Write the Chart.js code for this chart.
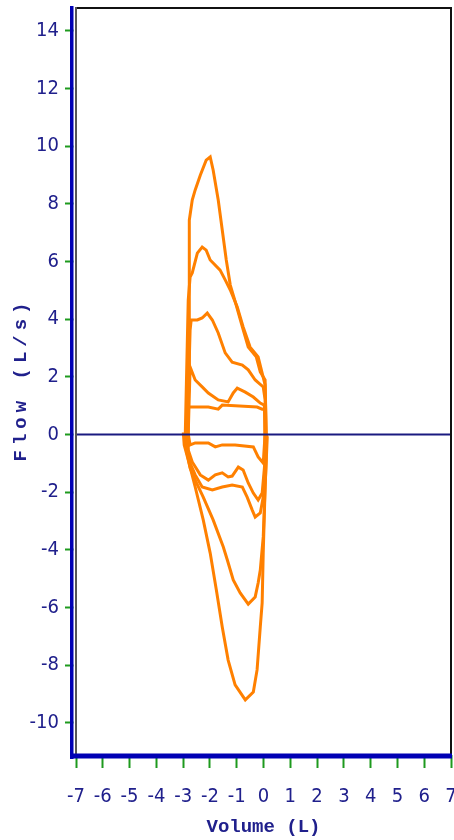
<!DOCTYPE html>
<html>
<head>
<meta charset="utf-8">
<script src="https://cdn.jsdelivr.net/npm/chart.js@4.4.0/dist/chart.umd.min.js"></script>
<style>
  html, body { margin: 0; padding: 0; background: #ffffff; overflow: hidden; }
  canvas { display: block; }
</style>
</head>
<body>
<canvas id="loops" width="454" height="840"></canvas>
<script>
// Axis tick values
const volumeTicks = [-7, -6, -5, -4, -3, -2, -1, 0, 1, 2, 3, 4, 5, 6, 7];
const flowTicks = [-10, -8, -6, -4, -2, 0, 2, 4, 6, 8, 10, 12, 14];

// Flow-volume loops (volume in L, flow in L/s), each traced as a closed path
const loop1Volume = [-2.88, -2.77, -2.77, -2.77, -2.66, -2.55, -2.36, -2.14, -1.99, -1.88, -1.69, -1.54, -1.39, -1.24, -1.02, -0.79, -0.57, -0.27, -0.12, 0.06, 0.10,
  0.14, 0.06, -0.01, -0.05, -0.12, -0.24, -0.38, -0.68, -1.06, -1.32, -1.54, -1.76, -1.99, -2.25, -2.55, -2.81, -2.96, -2.99, -2.88];
const loop1Flow = [0.02, 1.89, 5.01, 7.43, 8.13, 8.48, 8.99, 9.51, 9.62, 9.17, 8.13, 7.09, 6.05, 5.18, 4.49, 3.73, 3.03, 2.69, 2.17, 1.89, 0.02,
  -0.09, -1.82, -4.10, -5.84, -6.67, -8.16, -8.93, -9.20, -8.68, -7.82, -6.67, -5.39, -4.11, -2.96, -1.82, -0.88, -0.36, 0.02, 0.02];

const loop2Volume = [-2.92, -2.81, -2.74, -2.66, -2.47, -2.29, -2.14, -1.99, -1.62, -1.43, -1.24, -0.98, -0.76, -0.50, -0.20, -0.05, 0.06, 0.10,
  0.10, 0.06, -0.01, -0.12, -0.20, -0.31, -0.57, -0.87, -1.13, -1.35, -1.50, -1.88, -2.25, -2.55, -2.74, -2.88, -2.92];
const loop2Flow = [0.02, 4.66, 5.46, 5.60, 6.29, 6.50, 6.39, 6.05, 5.70, 5.36, 5.01, 4.42, 3.73, 3.03, 2.69, 2.13, 1.72, 0.02,
  -0.88, -1.82, -3.55, -4.70, -5.15, -5.63, -5.88, -5.49, -5.04, -4.35, -3.90, -2.96, -2.17, -1.58, -1.16, -0.54, 0.02];

const loop3Volume = [-2.85, -2.74, -2.70, -2.47, -2.29, -2.10, -1.91, -1.69, -1.43, -1.17, -0.79, -0.57, -0.31, -0.01, 0.06, 0.06,
  0.06, -0.01, -0.12, -0.31, -0.42, -0.61, -0.79, -1.17, -1.54, -1.91, -2.29, -2.55, -2.74, -2.85, -2.85];
const loop3Flow = [0.02, 3.62, 3.97, 3.97, 4.04, 4.21, 3.97, 3.52, 2.83, 2.51, 2.41, 2.24, 1.89, 1.65, 1.20, 0.02,
  -0.99, -2.17, -2.72, -2.86, -2.62, -2.17, -1.82, -1.75, -1.82, -1.92, -1.82, -1.40, -0.99, -0.36, 0.02];

const loop4Volume = [-2.81, -2.74, -2.55, -2.29, -2.06, -1.69, -1.32, -1.13, -0.98, -0.68, -0.38, -0.12, 0.03, 0.06,
  0.06, -0.05, -0.20, -0.38, -0.57, -0.76, -0.94, -1.17, -1.32, -1.54, -1.80, -2.06, -2.36, -2.66, -2.81, -2.81];
const loop4Flow = [0.02, 2.34, 1.89, 1.65, 1.44, 1.20, 1.13, 1.44, 1.61, 1.47, 1.30, 1.09, 1.02, 0.02,
  -0.88, -2.03, -2.27, -2.03, -1.68, -1.23, -1.13, -1.44, -1.47, -1.33, -1.40, -1.58, -1.40, -0.95, -0.54, 0.02];

const loop5Volume = [-2.81, -2.81, -2.06, -1.69, -1.54, -0.24, -0.05, 0.06, 0.06,
  -0.01, -0.20, -0.38, -1.06, -1.54, -1.80, -2.06, -2.55, -2.74, -2.81];
const loop5Flow = [0.02, 0.95, 0.95, 0.88, 1.02, 0.95, 0.88, 0.88, 0.02,
  -0.99, -0.78, -0.43, -0.36, -0.36, -0.43, -0.29, -0.29, -0.36, 0.02];

const loops = [
  [loop1Volume, loop1Flow],
  [loop2Volume, loop2Flow],
  [loop3Volume, loop3Flow],
  [loop4Volume, loop4Flow],
  [loop5Volume, loop5Flow]
];

const ORANGE = '#ff8000';
const NAVY = '#20208c';
const AXIS_BLUE = '#0000b4';
const TICK_GREEN = '#1e9a1e';
const labelFont = { family: "'DejaVu Sans Condensed', 'Liberation Sans', sans-serif", size: 20 };

const datasets = loops.map(([vol, flow]) => ({
  data: vol.map((v, i) => ({ x: v, y: flow[i] })),
  showLine: true,
  borderColor: ORANGE,
  borderWidth: 3,
  pointRadius: 0,
  pointHoverRadius: 0,
  tension: 0,
  fill: false
}));

// Frame, blue axis bars, zero line and the rotated y title
const framePlugin = {
  id: 'frame',
  afterDatasetsDraw(chart) {
    const { ctx, chartArea: a, scales } = chart;
    const y0 = scales.y.getPixelForValue(0);
    ctx.save();
    ctx.strokeStyle = '#1a1a80';
    ctx.lineWidth = 2;
    ctx.beginPath();
    ctx.moveTo(a.left, y0);
    ctx.lineTo(a.right, y0);
    ctx.stroke();
    ctx.restore();
  },
  afterDraw(chart) {
    const { ctx, chartArea: a } = chart;
    ctx.save();
    // plot frame
    ctx.fillStyle = '#111111';
    ctx.fillRect(a.left, a.top, a.right - a.left, 2);
    ctx.fillRect(a.right - 1, a.top, 2, a.bottom - a.top);
    ctx.fillStyle = '#ffffff';
    ctx.fillRect(a.left - 2.5, a.top - 1, 1.5, a.bottom - a.top);
    ctx.fillStyle = '#555555';
    ctx.fillRect(a.left - 1, a.top, 2, a.bottom - a.top);
    // blue axis bars
    ctx.fillStyle = AXIS_BLUE;
    ctx.fillRect(a.left - 6, a.top - 1, 3.5, a.bottom - a.top + 5);
    ctx.fillRect(a.left - 6, a.bottom - 1.5, a.right - a.left + 7, 5);
    // y axis title
    ctx.translate(21.5, 382);
    ctx.rotate(-Math.PI / 2);
    ctx.font = "bold 19px 'Liberation Mono', 'DejaVu Sans Mono', monospace";
    ctx.letterSpacing = '5px';
    ctx.textAlign = 'center';
    ctx.textBaseline = 'middle';
    ctx.fillStyle = NAVY;
    ctx.fillText('Flow (L/s)', 2.5, 0);
    ctx.restore();
  }
};

new Chart(document.getElementById('loops'), {
  type: 'scatter',
  data: { datasets },
  options: {
    responsive: false,
    animation: false,
    events: [],
    layout: { padding: { top: 7, right: 3, left: 0, bottom: 0 } },
    plugins: { legend: { display: false }, tooltip: { enabled: false } },
    scales: {
      x: {
        type: 'linear',
        min: -7,
        max: 7,
        afterFit(scale) {
          scale.height = 85;
          scale.paddingLeft = 0;
          scale.paddingRight = 0;
        },
        afterBuildTicks(scale) { scale.ticks = volumeTicks.map(v => ({ value: v })); },
        border: { display: false },
        grid: { drawOnChartArea: false, drawTicks: true, tickLength: 13, tickColor: TICK_GREEN, tickWidth: 2, color: TICK_GREEN },
        ticks: { autoSkip: false, maxRotation: 0, minRotation: 0, padding: 17, color: NAVY, font: labelFont },
        title: {
          display: true,
          text: 'Volume (L)',
          color: NAVY,
          font: { family: "'Liberation Mono', 'DejaVu Sans Mono', monospace", size: 19, weight: 'bold' },
          padding: { top: 0, bottom: 1 }
        }
      },
      y: {
        type: 'linear',
        min: -11.11,
        max: 14.82,
        afterFit(scale) {
          scale.width = 76;
          scale.paddingTop = 0;
          scale.paddingBottom = 0;
        },
        afterBuildTicks(scale) { scale.ticks = flowTicks.map(v => ({ value: v })); },
        border: { display: false },
        grid: { drawOnChartArea: false, drawTicks: true, tickLength: 11, tickColor: TICK_GREEN, tickWidth: 2, color: TICK_GREEN },
        ticks: { padding: 6, color: NAVY, font: labelFont }
      }
    }
  },
  plugins: [framePlugin]
});
</script>
</body>
</html>
